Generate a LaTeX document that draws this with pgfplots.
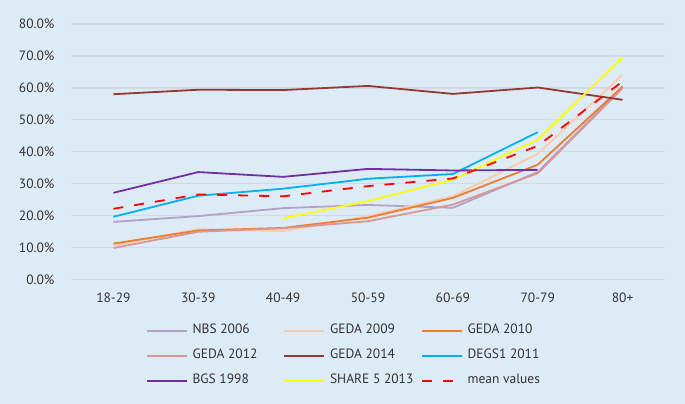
\documentclass[border=0pt]{standalone}
\usepackage{pgfplots}
\pgfplotsset{compat=1.18}
\usepackage{fontspec}
\setmainfont{PT Sans}
\definecolor{bg}{HTML}{DDEBF7}
\definecolor{gridc}{HTML}{D3DAE2}
\definecolor{txt}{HTML}{333333}
\definecolor{cNBS}{HTML}{B3A2C7}
\definecolor{cG09}{HTML}{F8CBAD}
\definecolor{cG10}{HTML}{ED7D31}
\definecolor{cG12}{HTML}{D99694}
\definecolor{cG14}{HTML}{953735}
\definecolor{cDEGS}{HTML}{00B0F0}
\definecolor{cBGS}{HTML}{7030A0}
\definecolor{cSHARE}{HTML}{FFFF00}
\definecolor{cMean}{HTML}{FF0000}
\newcommand{\lt}[1]{\makebox[90.8bp][l]{#1}}
\begin{document}
\fontsize{13.5bp}{16bp}\selectfont
\begin{tikzpicture}
\fill[bg] (0,0) rectangle (685bp,404bp);
\begin{axis}[
  at={(71bp,124.7bp)}, anchor=south west,
  scale only axis, width=594bp, height=255.3bp,
  xmin=-0.5, xmax=6.5, ymin=0, ymax=80,
  axis line style={draw=none},
  xtick={0,1,2,3,4,5,6},
  xticklabels={18-29,30-39,40-49,50-59,60-69,70-79,80+},
  ytick={0,10,20,30,40,50,60,70,80},
  yticklabel={\pgfmathprintnumber[fixed,fixed zerofill,precision=1,assume math mode=true]{\tick}\%},
  /pgf/number format/assume math mode=true,
  major tick length=0pt,
  ymajorgrids, major grid style={draw=gridc, line width=1.5bp},
  yticklabel style={xshift=-12bp, font=\fontsize{13.5bp}{16bp}\selectfont, text=txt},
  xticklabel style={yshift=-9bp, font=\fontsize{13.5bp}{16bp}\selectfont, text=txt},
  legend columns=3,
  legend style={at={(axis description cs:0.126,-0.17626)}, anchor=north west,
    draw=none, fill=none, inner sep=0pt, outer sep=0pt,
    font=\fontsize{13.5bp}{16bp}\selectfont, text=txt,
    nodes={inner sep=0pt, text height=9.5bp, text depth=3bp},
    row sep=12.5bp, column sep=0pt,
    /tikz/every odd column/.append style={column sep=4.7bp}},
  legend cell align=left,
  legend image code/.code={\draw[line width=2bp,#1] (0bp,0bp) -- (40bp,0bp);},
  every axis plot/.append style={line width=1.8bp, mark=none},
]
\addplot[cNBS] coordinates {(0,18.0)(1,19.8)(2,22.3)(3,23.3)(4,22.4)(5,33.6)(6,60.3)};
\addlegendentry{\lt{NBS 2006}}
\addplot[cG09] coordinates {(0,10.6)(1,15.7)(2,15.1)(3,19.8)(4,26.0)(5,39.3)(6,64.1)};
\addlegendentry{\lt{GEDA 2009}}
\addplot[cG10] coordinates {(0,11.2)(1,15.3)(2,16.1)(3,19.3)(4,25.5)(5,35.9)(6,60.4)};
\addlegendentry{\lt{GEDA 2010}}
\addplot[cG12] coordinates {(0,9.8)(1,14.9)(2,16.0)(3,18.2)(4,23.4)(5,33.2)(6,59.9)};
\addlegendentry{\lt{GEDA 2012}}
\addplot[cG14] coordinates {(0,58.0)(1,59.4)(2,59.3)(3,60.6)(4,58.1)(5,60.1)(6,56.25)};
\addlegendentry{\lt{GEDA 2014}}
\addplot[cDEGS] coordinates {(0,19.6)(1,26.2)(2,28.4)(3,31.5)(4,33.0)(5,46.1)};
\addlegendentry{\lt{DEGS1 2011}}
\addplot[cBGS] coordinates {(0,27.1)(1,33.6)(2,32.1)(3,34.6)(4,34.1)(5,34.3)};
\addlegendentry{\lt{BGS 1998}}
\addplot[cSHARE] coordinates {(2,19.1)(3,24.5)(4,31.2)(5,43.75)(6,69.5)};
\addlegendentry{\lt{SHARE 5 2013}}
\addplot[cMean, dash pattern=on 10bp off 11bp] coordinates {(0,22.1)(1,26.6)(2,26.0)(3,29.2)(4,31.6)(5,41.8)(6,62.0)};
\addlegendentry{\lt{mean values}}
\end{axis}
\end{tikzpicture}
\end{document}
